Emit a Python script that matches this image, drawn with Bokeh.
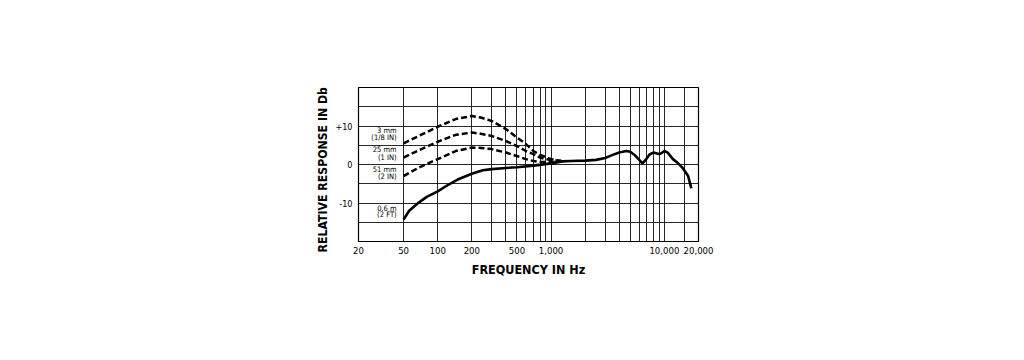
from bokeh.plotting import figure
from bokeh.models import Range1d, FixedTicker, Label, Title
from bokeh.embed import file_html
from bokeh.resources import INLINE

# ---- data ----
freq_2ft = [50, 56, 68, 80, 100, 125, 150, 200, 250, 300, 400, 500, 700, 1000, 1250, 1500,
            2000, 2500, 3000, 3500, 4000, 4600, 5000, 5500, 6000, 6400, 6800, 7400, 8000,
            8900, 9400, 10000, 10700, 11900, 12900, 14400, 16200, 17300]
db_2ft = [-14.3, -12.0, -9.9, -8.4, -7.0, -5.2, -3.9, -2.4, -1.5, -1.2, -0.9, -0.7, -0.3, 0.3, 0.8, 0.9,
          1.0, 1.2, 1.7, 2.5, 3.1, 3.5, 3.3, 2.4, 1.2, 0.3, 1.1, 2.6, 3.1,
          2.7, 2.9, 3.5, 3.1, 1.4, 0.6, -0.8, -3.0, -6.2]

freq_near = [50, 68, 100, 144, 200, 240, 300, 400, 500, 600, 700, 800, 1000, 1230]
db_3mm = [5.5, 7.4, 9.8, 11.8, 12.6, 12.2, 11.3, 9.2, 7.0, 5.3, 3.5, 2.5, 1.4, 0.9]
db_25mm = [1.8, 3.7, 5.9, 7.7, 8.3, 8.0, 7.4, 6.1, 4.8, 3.5, 2.7, 1.8, 1.1, 0.9]
db_51mm = [-3.0, -0.8, 1.4, 3.5, 4.4, 4.3, 4.0, 3.1, 2.2, 1.4, 0.9, 0.7, 0.6, 0.9]

curve_labels = [("3 mm", "(1/8 IN)"), ("25 mm", "(1 IN)"), ("51 mm", "(2 IN)"), ("0.6 m", "(2 FT)")]

x_tick_values = [20, 50, 100, 200, 500, 1000, 10000, 20000]
x_tick_labels = ["20", "50", "100", "200", "500", "1,000", "10,000", "20,000"]
x_grid_values = [50, 100, 200, 300, 400, 500, 600, 700, 800, 900, 1000, 2000, 3000, 4000,
                 5000, 6000, 7000, 8000, 9000, 10000, 15000]
y_tick_values = [10, 0, -10]
y_tick_labels = ["+10", "0", "-10"]
y_grid_values = [-15, -10, -5, 0, 5, 10, 15]

FONT = "DejaVu Sans Condensed"

p = figure(x_axis_type="log", x_range=Range1d(20, 20000), y_range=Range1d(-20, 20),
           frame_width=340, frame_height=154, width=1008, height=344,
           min_border_left=358, min_border_right=310, min_border_top=87, min_border_bottom=103,
           output_backend="svg", toolbar_location=None)

p.outline_line_color = "black"
p.outline_line_width = 1.2

p.xgrid.ticker = FixedTicker(ticks=x_grid_values)
p.ygrid.ticker = FixedTicker(ticks=y_grid_values)
for g in (p.xgrid, p.ygrid):
    g.grid_line_color = "#111111"
    g.grid_line_width = 1
    g.grid_line_alpha = 0.9

for ax in (p.xaxis, p.yaxis):
    ax.axis_line_color = None
    ax.major_tick_line_color = None
    ax.minor_tick_line_color = None
    ax.major_tick_in = 0
    ax.major_tick_out = 0
    ax.minor_tick_in = 0
    ax.minor_tick_out = 0
    ax.major_label_text_font = FONT
    ax.major_label_text_color = "black"
    ax.axis_label_text_font = FONT
    ax.axis_label_text_font_style = "bold"
    ax.axis_label_text_color = "black"
    ax.axis_label_text_font_size = "12.5px"

p.xaxis.ticker = FixedTicker(ticks=x_tick_values)
p.xaxis.major_label_overrides = {v: s for v, s in zip(x_tick_values, x_tick_labels)}
p.xaxis.major_label_text_font_size = "9.5px"
p.xaxis.major_label_standoff = 5
p.xaxis.axis_label = "FREQUENCY IN Hz"
p.xaxis.axis_label_standoff = 5

p.yaxis.ticker = FixedTicker(ticks=y_tick_values)
p.yaxis.major_label_overrides = {v: s for v, s in zip(y_tick_values, y_tick_labels)}
p.yaxis.major_label_text_font_size = "9px"
p.yaxis.major_label_standoff = 6

# vertical title, anchored at the bottom and shifted below the frame like the reference
p.add_layout(Title(text="RELATIVE RESPONSE IN Db", align="left", offset=-11, standoff=5,
                   text_font=FONT, text_font_style="bold", text_font_size="12.2px",
                   text_color="black"), "left")

p.line(freq_2ft, db_2ft, line_color="black", line_width=2.6)
for d in (db_3mm, db_25mm, db_51mm):
    p.line(freq_near, d, line_color="black", line_width=2.5, line_dash="6 3")

label_y = [(8.9, 6.9), (3.8, 1.9), (-1.2, -3.2), (-11.3, -13.1)]
for (t1, t2), (y1, y2) in zip(curve_labels, label_y):
    for t, yy in ((t1, y1), (t2, y2)):
        p.add_layout(Label(x=43.4, y=yy, text=t, text_align="right", text_baseline="middle",
                           text_font=FONT, text_font_size="7.5px", text_color="black"))

open("out.html", "w").write(file_html(p, INLINE))
